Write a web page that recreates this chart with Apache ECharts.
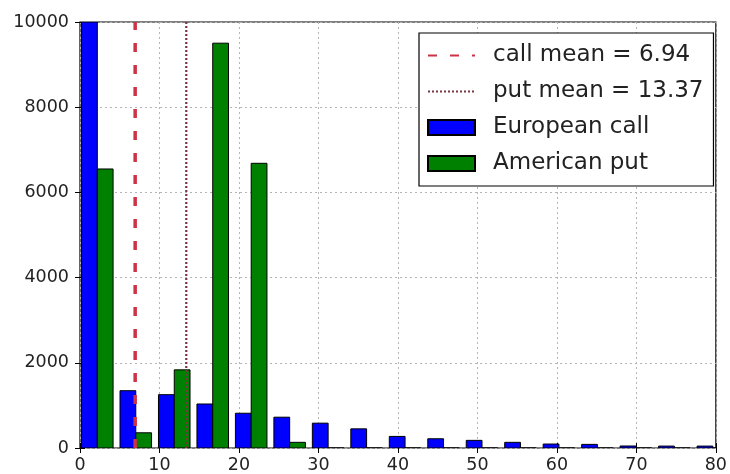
<!DOCTYPE html>
<html>
<head>
<meta charset="utf-8">
<script src="https://cdn.jsdelivr.net/npm/echarts@6/dist/echarts.min.js"></script>
<style>
  html, body { margin: 0; padding: 0; background: #fff; }
  #chart { width: 730px; height: 474px; }
</style>
</head>
<body>
<div id="chart"></div>
<script>
// histogram bins (left edges), width of one bin
var binLefts = [0, 4.84, 9.68, 14.52, 19.36, 24.2, 29.04, 33.88, 38.72, 43.56, 48.4, 53.24, 58.08, 62.92, 67.76, 72.6, 77.44];
var binWidth = 4.84;
var callCounts = [10000, 1345, 1252, 1033, 816, 723, 583, 450, 272, 217, 179, 133, 93, 85, 47, 45, 45];
var putCounts = [6550, 357, 1834, 9503, 6683, 133, 0, 0, 0, 0, 0, 0, 0, 0, 0, 0, 0];
var callMean = 6.94;
var putMean = 13.37;
var xTicks = [0, 10, 20, 30, 40, 50, 60, 70, 80];
var yTicks = [0, 2000, 4000, 6000, 8000, 10000];

var FONT = 'DejaVu Sans';
var xMin = xTicks[0], xMax = xTicks[xTicks.length - 1];
var yMin = yTicks[0], yMax = yTicks[yTicks.length - 1];

// each bin: two bars side by side taking 80% of the bin
function barData(counts, slot) {
  var out = [];
  for (var i = 0; i < counts.length; i++) {
    var start = binLefts[i] + binWidth * 0.04 + slot * binWidth * 0.41;
    out.push([start, start + binWidth * 0.41, counts[i]]);
  }
  return out;
}

function renderBar(params, api) {
  var p0 = api.coord([api.value(0), api.value(2)]);
  var p1 = api.coord([api.value(1), 0]);
  return {
    type: 'rect',
    shape: { x: p0[0], y: p0[1], width: p1[0] - p0[0], height: p1[1] - p0[1] },
    style: api.style({ stroke: '#000', lineWidth: 1 })
  };
}

var chart = echarts.init(document.getElementById('chart'));
chart.setOption({
  animation: false,
  textStyle: { fontFamily: FONT },
  grid: { left: 80, right: 7, top: 22, bottom: 23, show: true, borderColor: '#000', borderWidth: 1.2 },
  legend: {
    orient: 'vertical',
    left: 419, top: 33,
    padding: [11, 10, 11, 8],
    itemWidth: 47, itemHeight: 15, itemGap: 13,
    backgroundColor: '#fff', borderColor: '#000', borderWidth: 1.2,
    textStyle: { fontSize: 23, color: '#222', fontFamily: FONT, padding: [0, 0, 0, 13] },
    data: [
      { name: 'call mean = ' + callMean, itemStyle: { opacity: 0 } },
      { name: 'put mean = ' + putMean, itemStyle: { opacity: 0 } },
      { name: 'European call', icon: 'rect' },
      { name: 'American put', icon: 'rect' }
    ]
  },
  xAxis: [{
    type: 'value', min: xMin, max: xMax, interval: 10,
    axisLine: { show: false },
    axisTick: { show: true, inside: true, length: 5, lineStyle: { color: '#000' } },
    axisLabel: { fontSize: 17.5, color: '#222', margin: 8, fontFamily: FONT },
    splitLine: { show: true, lineStyle: { color: '#b4b4b4', type: [2, 3], width: 1 } }
  }, {
    type: 'value', min: xMin, max: xMax, interval: 10, position: 'top',
    axisLine: { show: false },
    axisTick: { show: true, inside: true, length: 5, lineStyle: { color: '#000' } },
    axisLabel: { show: false }, splitLine: { show: false }
  }],
  yAxis: [{
    type: 'value', min: yMin, max: yMax, interval: 2000,
    axisLine: { show: false },
    axisTick: { show: true, inside: true, length: 5, lineStyle: { color: '#000' } },
    axisLabel: { fontSize: 17.5, color: '#222', margin: 11, fontFamily: FONT,
      formatter: function (v) { return String(v); } },
    splitLine: { show: true, lineStyle: { color: '#b4b4b4', type: [2, 3], width: 1 } }
  }, {
    type: 'value', min: yMin, max: yMax, interval: 2000, position: 'right',
    axisLine: { show: false },
    axisTick: { show: true, inside: true, length: 5, lineStyle: { color: '#000' } },
    axisLabel: { show: false }, splitLine: { show: false }
  }],
  series: [{
    name: 'European call', type: 'custom', renderItem: renderBar, clip: true,
    itemStyle: { color: '#0000ff', borderColor: '#000', borderWidth: 1 },
    encode: { x: [0, 1], y: 2 },
    data: barData(callCounts, 0), z: 2
  }, {
    name: 'American put', type: 'custom', renderItem: renderBar, clip: true,
    itemStyle: { color: '#008000', borderColor: '#000', borderWidth: 1 },
    encode: { x: [0, 1], y: 2 },
    data: barData(putCounts, 1), z: 2
  }, {
    name: 'call mean = ' + callMean, type: 'line', symbol: 'none', z: 5,
    lineStyle: { color: '#cc3346', width: 3.5, type: [9, 13] },
    itemStyle: { color: '#cc3346' },
    data: [[callMean, yMin], [callMean, yMax]]
  }, {
    name: 'put mean = ' + putMean, type: 'line', symbol: 'none', z: 5,
    lineStyle: { color: '#7a3444', width: 2.2, type: [2, 2] },
    itemStyle: { color: '#7a3444' },
    data: [[putMean, yMin], [putMean, yMax]]
  }]
});
</script>
</body>
</html>
